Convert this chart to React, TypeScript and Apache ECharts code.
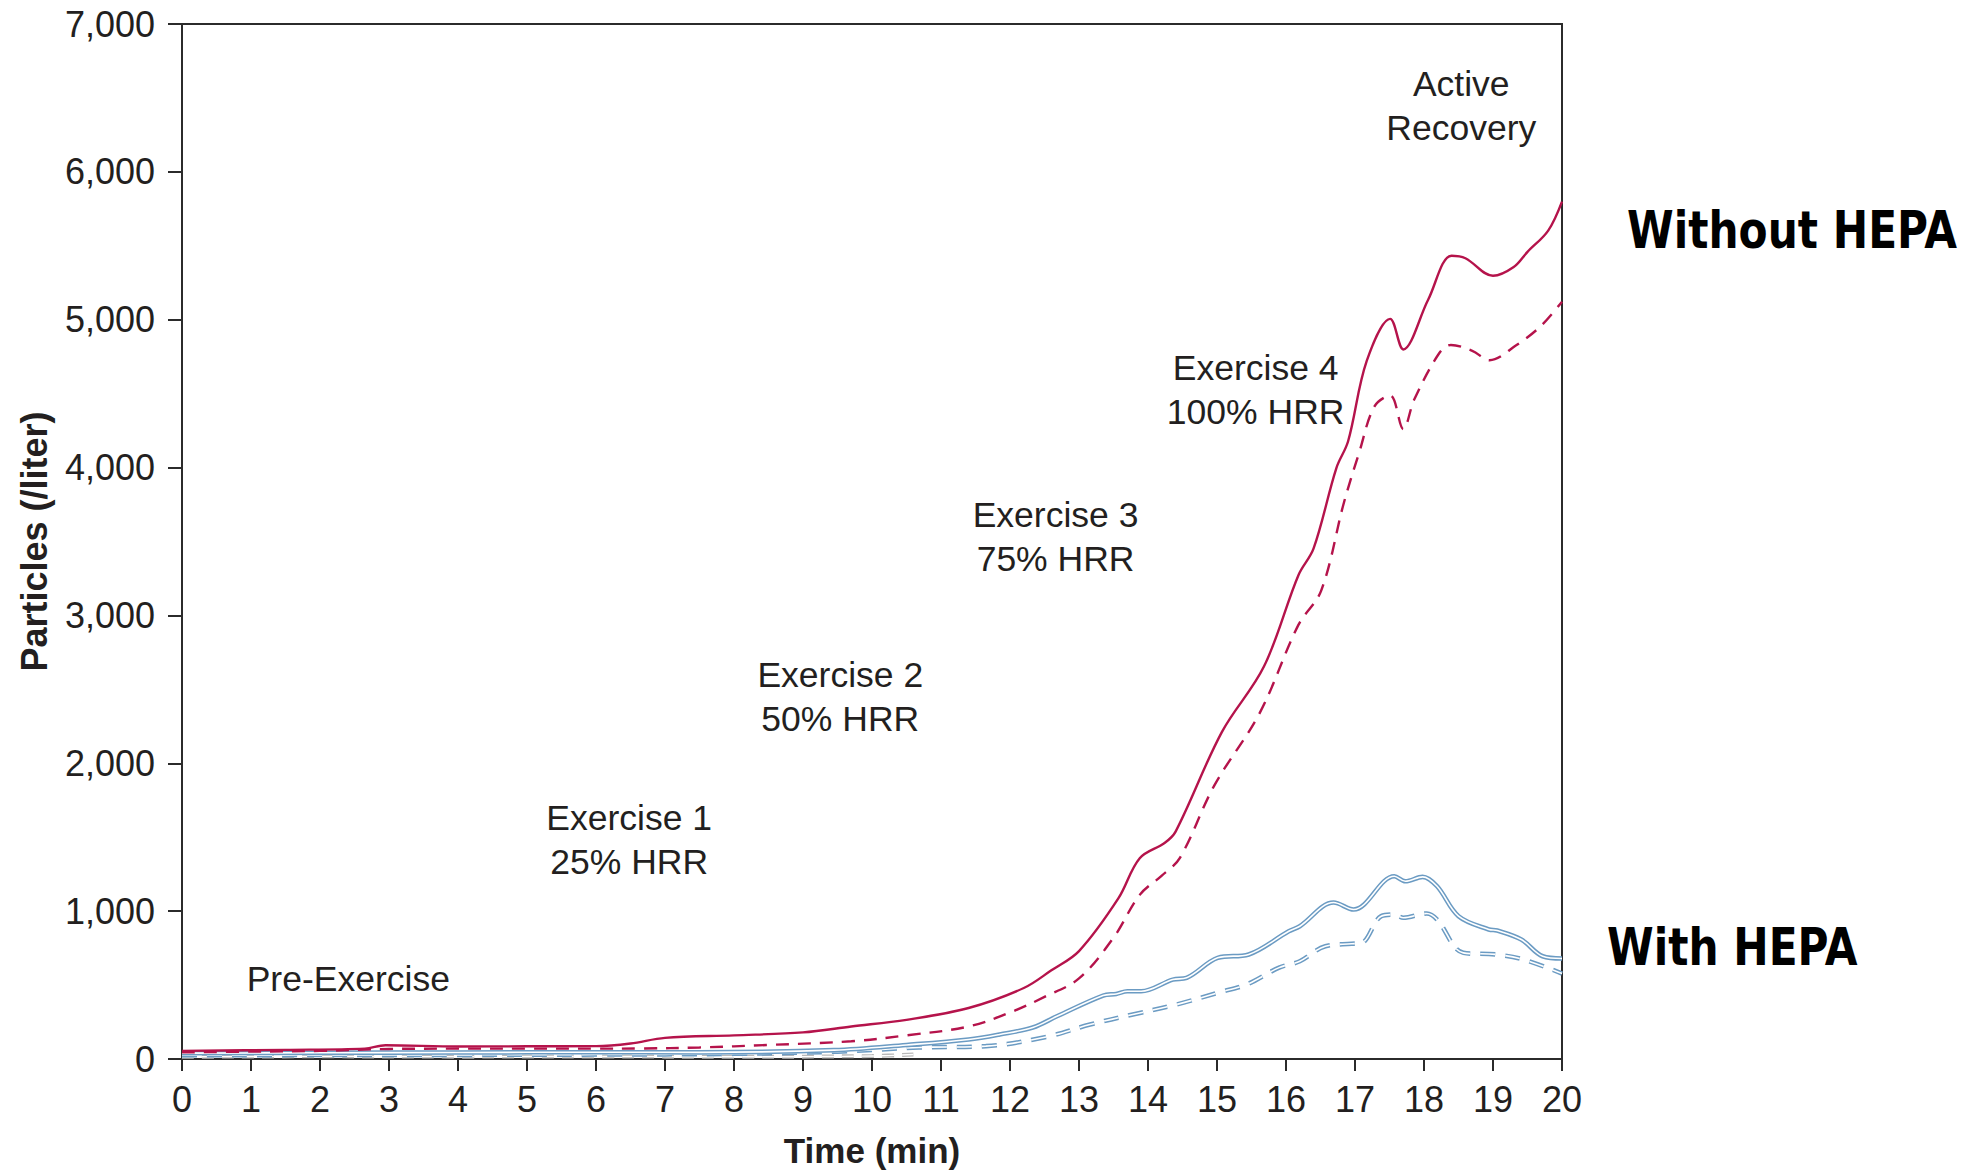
import React, { useEffect, useRef } from "react";
import * as echarts from "echarts";

// ---- Data ----
const xTicks = [0, 20, 1]; // min, max, interval (minutes)
const yTicks = [0, 7000, 1000]; // min, max, interval (particles / liter)

// Without HEPA – solid (red)
const redSolidTime = [0, 1.5, 2.65, 2.95, 4, 5, 6, 6.5, 7, 8, 9, 9.7, 10.5, 11.4, 12.2, 12.6, 13.0, 13.57, 13.88, 14.24, 14.4, 15.07, 15.68, 16.18, 16.4, 16.73, 16.9, 17.17, 17.51, 17.7, 18.06, 18.4, 18.6, 19.0, 19.3, 19.5, 19.8, 20];
const redSolidValues = [55, 62, 70, 93, 85, 86, 87, 105, 143, 160, 180, 220, 265, 345, 480, 600, 730, 1086, 1358, 1461, 1538, 2211, 2654, 3272, 3453, 3997, 4178, 4721, 5006, 4799, 5135, 5433, 5416, 5297, 5356, 5459, 5603, 5799];

// Without HEPA – dashed (red)
const redDashTime = [0, 1, 2, 3, 4, 5, 6, 6.65, 7.5, 8.5, 9.7, 10.5, 11.4, 12.03, 12.5, 13.0, 13.5, 13.88, 14.2, 14.46, 14.96, 15.62, 16.18, 16.51, 16.84, 17.06, 17.28, 17.51, 17.7, 17.86, 18.22, 18.39, 18.7, 18.95, 19.33, 19.7, 20];
const redDashValues = [45, 50, 55, 68, 70, 70, 70, 71, 78, 95, 120, 160, 220, 320, 420, 545, 820, 1110, 1240, 1358, 1849, 2341, 2936, 3168, 3764, 4101, 4412, 4488, 4260, 4462, 4773, 4829, 4790, 4726, 4825, 4960, 5122];

// With HEPA – solid (blue)
const blueSolidTime = [0, 2, 4, 6, 7.5, 9.45, 10.5, 11.4, 11.85, 12.33, 12.68, 13.35, 13.54, 13.7, 13.9, 14.36, 14.56, 15.01, 15.46, 16.04, 16.2, 16.69, 16.98, 17.57, 17.73, 17.98, 18.19, 18.5, 18.94, 19.06, 19.41, 19.72, 20];
const blueSolidValues = [40, 42, 44, 46, 45, 60, 95, 132, 166, 213, 289, 429, 440, 458, 458, 537, 549, 684, 707, 864, 898, 1058, 1011, 1236, 1202, 1232, 1168, 966, 876, 869, 808, 695, 680];

// With HEPA – dashed (blue)
const blueDashTime = [0, 2, 4, 6, 8, 9.5, 10.68, 11.65, 12.53, 13.16, 13.78, 14.41, 15.04, 15.43, 15.9, 16.2, 16.57, 16.95, 17.1, 17.38, 17.57, 17.7, 18.04, 18.19, 18.57, 19.04, 19.44, 20];
const blueDashValues = [25, 27, 28, 30, 35, 50, 78, 87, 150, 233, 301, 368, 452, 504, 618, 661, 763, 779, 785, 966, 977, 955, 984, 943, 718, 707, 673, 578];

// Faint grey trace near the baseline
const greyTime = [0, 2, 4, 6, 8, 10, 10.6];
const greyValues = [15, 18, 16, 17, 15, 20, 30];

// Phase annotations (time, particles)
const phaseLabels = ["Pre-Exercise", "Exercise 1\n25% HRR", "Exercise 2\n50% HRR", "Exercise 3\n75% HRR", "Exercise 4\n100% HRR", "Active\nRecovery"];
const phaseTime = [2.41, 6.48, 9.54, 12.66, 15.56, 18.54];
const phaseValue = [544, 1478, 2451, 3533, 4527, 6448];

const groupLabels = ["Without HEPA", "With HEPA"];

const zip = (t: number[], v: number[]) => t.map((x, i) => [x, v[i]]);

const RED = "#b5134b";
const BLUE = "#6b9bc3";
const TEXT = "#231f20";
const AXIS = "#2b2b2b";
const FONT = "'Liberation Sans', Arial, Helvetica, sans-serif";
const BIG_FONT = "'DejaVu Sans', sans-serif";

export default function App() {
  const ref = useRef<HTMLDivElement>(null);

  useEffect(() => {
    if (!ref.current) return;
    const chart = echarts.init(ref.current, undefined, { renderer: "svg" });

    const lineBase = { type: "line", smooth: 0.35, showSymbol: false, symbol: "none", silent: true, z: 3 } as any;

    const option: any = {
      animation: false,
      backgroundColor: "#ffffff",
      grid: {
        left: 182,
        right: 413,
        top: 24,
        bottom: 114,
        show: true,
        borderColor: AXIS,
        borderWidth: 2,
        containLabel: false,
        outerBoundsMode: "none",
      },
      xAxis: {
        type: "value",
        min: xTicks[0],
        max: xTicks[1],
        interval: xTicks[2],
        name: "Time (min)",
        nameLocation: "middle",
        nameGap: 74,
        nameTextStyle: { fontFamily: FONT, fontWeight: "bold", fontSize: 35, color: TEXT },
        axisLine: { show: true, lineStyle: { color: AXIS, width: 2 } },
        axisTick: { show: true, length: 12, lineStyle: { color: AXIS, width: 2 } },
        axisLabel: { fontFamily: FONT, fontSize: 36, color: TEXT, margin: 22 },
        splitLine: { show: false },
      },
      yAxis: {
        type: "value",
        min: yTicks[0],
        max: yTicks[1],
        interval: yTicks[2],
        name: "Particles (/liter)",
        nameLocation: "middle",
        nameGap: 130,
        nameTextStyle: { fontFamily: FONT, fontWeight: "bold", fontSize: 36, color: TEXT },
        axisLine: { show: true, lineStyle: { color: AXIS, width: 2 } },
        axisTick: { show: true, length: 14, lineStyle: { color: AXIS, width: 2 } },
        axisLabel: {
          fontFamily: FONT,
          fontSize: 36,
          color: TEXT,
          margin: 27,
          formatter: (v: number) => v.toLocaleString("en-US"),
        },
        splitLine: { show: false },
      },
      series: [
        {
          ...lineBase,
          name: "grey outer",
          data: zip(greyTime, greyValues),
          lineStyle: { color: "#b9b9b9", width: 4, type: [12, 8] },
          z: 2,
        },
        {
          ...lineBase,
          name: "grey inner",
          data: zip(greyTime, greyValues),
          lineStyle: { color: "#ffffff", width: 1.4, type: [12, 8] },
          z: 2,
        },
        {
          ...lineBase,
          name: "With HEPA dashed outer",
          data: zip(blueDashTime, blueDashValues),
          lineStyle: { color: BLUE, width: 4.6, type: [15, 10] },
        },
        {
          ...lineBase,
          name: "With HEPA dashed inner",
          data: zip(blueDashTime, blueDashValues),
          lineStyle: { color: "#ffffff", width: 1.6, type: [15, 10] },
        },
        {
          ...lineBase,
          name: "With HEPA solid outer",
          data: zip(blueSolidTime, blueSolidValues),
          lineStyle: { color: BLUE, width: 4.6 },
        },
        {
          ...lineBase,
          name: "With HEPA solid inner",
          data: zip(blueSolidTime, blueSolidValues),
          lineStyle: { color: "#ffffff", width: 1.6 },
        },
        {
          ...lineBase,
          name: "Without HEPA dashed",
          data: zip(redDashTime, redDashValues),
          lineStyle: { color: RED, width: 2.4, type: [13, 9] },
          z: 4,
        },
        {
          ...lineBase,
          name: "Without HEPA solid",
          data: zip(redSolidTime, redSolidValues),
          lineStyle: { color: RED, width: 2.4 },
          z: 4,
        },
        {
          type: "scatter",
          name: "phases",
          symbolSize: 0,
          silent: true,
          clip: false,
          z: 5,
          itemStyle: { opacity: 1 },
          data: phaseLabels.map((n, i) => ({ name: n, value: [phaseTime[i], phaseValue[i]] })),
          label: {
            show: true,
            position: "inside",
            formatter: "{b}",
            fontFamily: FONT,
            fontSize: 35.5,
            lineHeight: 44,
            color: TEXT,
            opacity: 1,
            align: "center",
            verticalAlign: "middle",
          },
          emphasis: { disabled: true },
        },
      ],
      graphic: [
        {
          type: "text",
          x: 1627,
          y: 231,
          scaleX: 0.83,
          style: {
            text: groupLabels[0],
            font: `bold 51px ${BIG_FONT}`,
            fill: "#000000",
            verticalAlign: "middle",
            align: "left",
          },
        },
        {
          type: "text",
          x: 1607,
          y: 948,
          scaleX: 0.83,
          style: {
            text: groupLabels[1],
            font: `bold 51px ${BIG_FONT}`,
            fill: "#000000",
            verticalAlign: "middle",
            align: "left",
          },
        },
      ],
    };

    chart.setOption(option);
    return () => chart.dispose();
  }, []);

  return (
    <div
      ref={ref}
      style={{ position: "absolute", left: 0, top: 0, width: 1975, height: 1173, background: "#fff" }}
    />
  );
}
